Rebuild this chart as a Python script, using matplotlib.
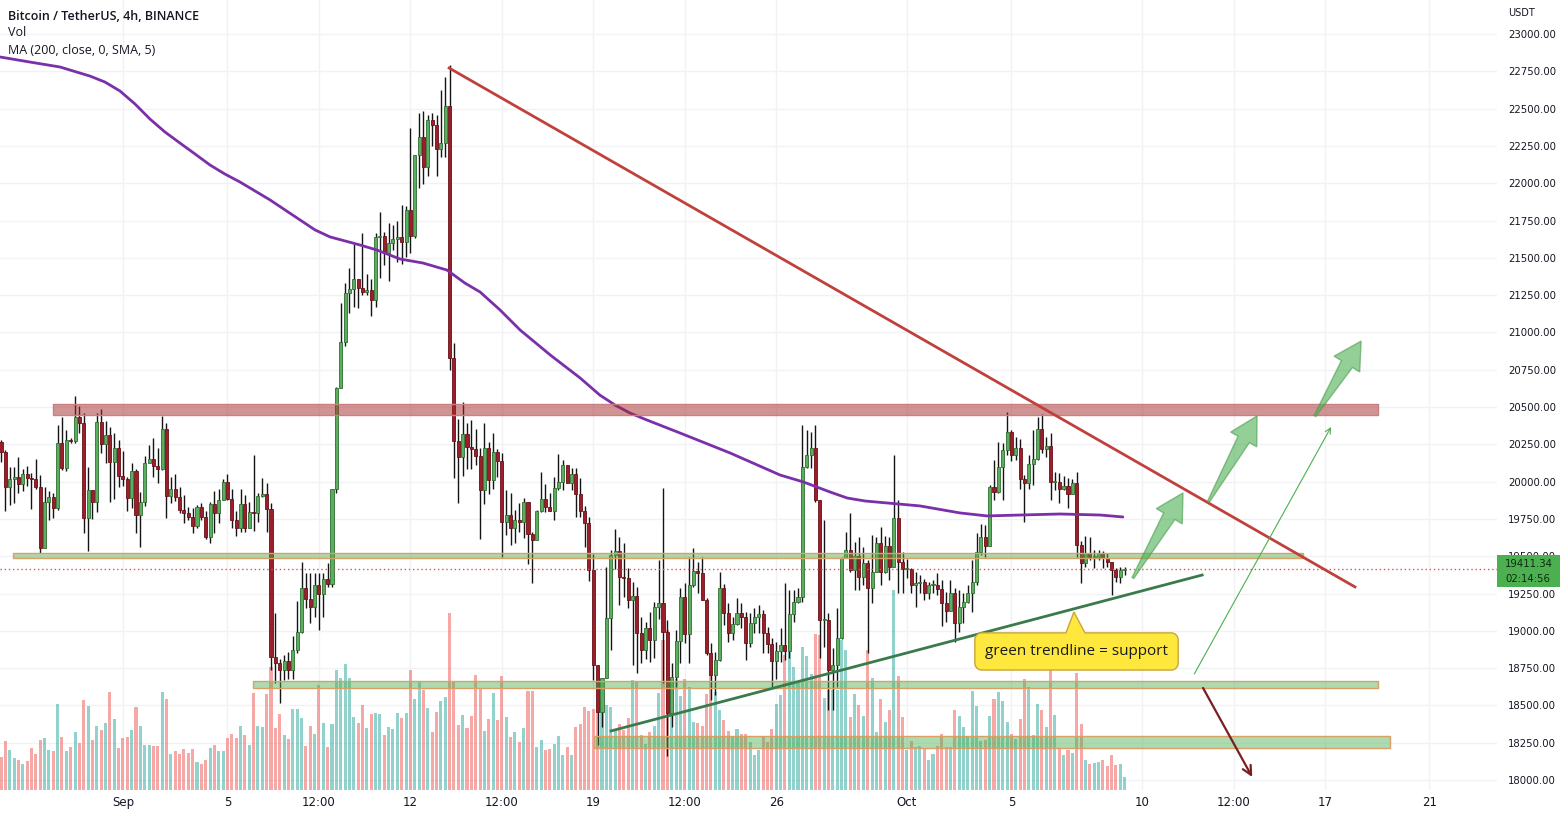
import numpy as np
import pandas as pd
import matplotlib
matplotlib.use("Agg")
import matplotlib.pyplot as plt
import matplotlib.dates as mdates
import matplotlib.transforms as mtransforms
from matplotlib.patches import Polygon, Rectangle

#------------------------------------------#
# Donnees (BTC/USDT 4h)
#------------------------------------------#
start = "2022-08-27 08:00"
first_open = 20268

close = [20201, 19966, 20018, 20033, 19984, 20049, 20026, 20015, 19966, 19553,
         19861, 19895, 19821, 20257, 20093, 20279, 20272, 20435, 20395, 19754,
         19944, 19866, 20397, 20250, 20312, 20134, 20223, 20040, 20015, 19888,
         20073, 19776, 19866, 20123, 20152, 20105, 20082, 20350, 19906, 19951,
         19895, 19810, 19792, 19765, 19705, 19832, 19765, 19627, 19848, 19788,
         19877, 19997, 19883, 19743, 19691, 19850, 19691, 19794, 19792, 19904,
         19917, 19814, 18827, 18782, 18737, 18798, 18737, 18872, 18990, 19285,
         19213, 19162, 19307, 19247, 19345, 19314, 19948, 20625, 20934, 21262,
         21289, 21356, 21296, 21273, 21285, 21218, 21642, 21646, 21535, 21602,
         21624, 21637, 21609, 21821, 21646, 22189, 22308, 22107, 22424, 22388,
         22227, 22268, 22518, 20827, 20272, 20167, 20319, 20234, 20216, 20172,
         19944, 20223, 20011, 20201, 20140, 19732, 19776, 19687, 19743, 19730,
         19861, 19649, 19609, 19805, 19883, 19832, 19805, 19955, 19999, 20111,
         19993, 20049, 19915, 19805, 19720, 19408, 18771, 18458, 18682, 19084,
         19508, 19535, 19363, 19352, 19207, 19233, 18983, 18872, 19017, 18939,
         19157, 19184, 18994, 18447, 18688, 18934, 19229, 18979, 19307, 19401,
         19390, 19207, 18854, 18704, 18805, 19285, 19117, 18988, 19046, 19117,
         19095, 18916, 19055, 19095, 19113, 18983, 18909, 18800, 18865, 18905,
         18867, 19113, 19195, 19229, 20096, 20178, 20223, 19877, 19072, 19072,
         18737, 18771, 18950, 19486, 19542, 19408, 19502, 19363, 19457, 19285,
         19397, 19587, 19397, 19569, 19430, 19754, 19464, 19412, 19412, 19307,
         19318, 19329, 19256, 19307, 19307, 19278, 19184, 19135, 19256, 19050,
         19162, 19195, 19256, 19329, 19531, 19631, 19569, 19962, 19932, 20100,
         20212, 20335, 20178, 20228, 20015, 19993, 20118, 20150, 20350, 20216,
         20239, 20000, 20000, 19948, 19973, 19917, 19989, 19575, 19452, 19524,
         19497, 19497, 19524, 19486, 19464, 19408, 19359, 19408, 19411.34]

high = [20279, 20212, 20096, 20096, 20163, 20082, 20107, 20055, 20152, 20044,
        19966, 19937, 19921, 20379, 20435, 20346, 20290, 20574, 20507, 20458,
        20096, 19944, 20458, 20484, 20408, 20368, 20328, 20279, 20207, 20033,
        20123, 20082, 19933, 20172, 20245, 20290, 20223, 20440, 20391, 20033,
        20049, 19966, 19910, 19832, 19821, 19843, 19855, 19805, 19866, 19937,
        19948, 20020, 20049, 19948, 19805, 19948, 19910, 19866, 20178, 19921,
        20022, 19988, 19854, 19117, 18809, 18838, 18860, 18965, 19202, 19463,
        19385, 19385, 19390, 19390, 19385, 19457, 19948, 20636, 21200, 21334,
        21430, 21593, 21356, 21664, 21392, 21356, 21664, 21810, 21676, 21731,
        21720, 21747, 21854, 21848, 22368, 22189, 22473, 22486, 22457, 22473,
        22457, 22625, 22714, 22792, 20927, 20417, 20536, 20395, 20413, 20350,
        20223, 20395, 20268, 20328, 20216, 20194, 19944, 19922, 19810, 19859,
        19888, 19866, 19665, 19810, 20067, 19984, 19921, 20033, 20185, 20145,
        20096, 20089, 20089, 20022, 19837, 19765, 19515, 18771, 18682, 19430,
        19541, 19680, 19631, 19591, 19419, 19329, 19296, 19095, 19062, 19128,
        19195, 19475, 19955, 19073, 18782, 19006, 19285, 19318, 19497, 19553,
        19464, 19497, 19218, 18916, 18860, 19397, 19312, 19189, 19095, 19218,
        19189, 19128, 19122, 19151, 19173, 19140, 19028, 18950, 18927, 19017,
        19318, 19274, 19274, 19285, 20380, 20346, 20335, 20380, 19877, 19743,
        19117, 18883, 19151, 19497, 19665, 19787, 19598, 19631, 19564, 19475,
        19642, 19631, 19698, 19636, 19631, 20178, 19877, 19531, 19479, 19419,
        19397, 19374, 19345, 19329, 19341, 19390, 19341, 19262, 19341, 19285,
        19274, 19256, 19307, 19475, 19653, 19716, 19709, 19977, 20145, 20268,
        20257, 20469, 20346, 20301, 20283, 20044, 20178, 20346, 20435, 20453,
        20301, 20324, 20067, 20060, 20038, 20022, 20015, 20067, 19604, 19636,
        19631, 19542, 19542, 19537, 19519, 19464, 19419, 19430, 19430]

low = [20134, 19803, 19843, 19859, 19922, 19937, 19971, 19814, 19948, 19519,
       19553, 19743, 19758, 19810, 20078, 20073, 20260, 20257, 20328, 19653,
       19537, 19747, 19799, 20190, 20123, 19861, 19881, 19966, 19971, 19803,
       19821, 19653, 19564, 19837, 20123, 20033, 19993, 20078, 19754, 19859,
       19872, 19792, 19725, 19743, 19653, 19687, 19743, 19613, 19587, 19653,
       19720, 19877, 19877, 19687, 19636, 19665, 19665, 19698, 19671, 19732,
       19899, 19665, 18737, 18648, 18514, 18670, 18675, 18675, 18849, 18983,
       19151, 19055, 19095, 19006, 19095, 19296, 19292, 19926, 20625, 20909,
       21128, 21173, 21162, 21251, 21251, 21110, 21173, 21363, 21452, 21347,
       21553, 21475, 21459, 21508, 21530, 21631, 21966, 21995, 22049, 22250,
       22049, 22178, 22178, 20748, 20022, 19859, 20038, 20082, 20082, 20111,
       19613, 19850, 19917, 19948, 20033, 19497, 19642, 19575, 19586, 19665,
       19620, 19448, 19318, 19609, 19799, 19799, 19805, 19743, 19944, 19944,
       19989, 19944, 19765, 19765, 19564, 19336, 18670, 18235, 18358, 19070,
       18871, 19412, 19173, 19229, 19151, 18771, 18715, 18787, 18809, 18793,
       18816, 19077, 18648, 18160, 18358, 18626, 18782, 18916, 18782, 19296,
       19251, 19207, 18838, 18537, 18570, 18800, 19039, 18927, 18939, 19039,
       19017, 18805, 18894, 18983, 18983, 18849, 18849, 18626, 18675, 18793,
       18805, 18816, 19062, 19184, 19195, 20089, 20089, 19866, 18816, 18894,
       18470, 18469, 18626, 18943, 19515, 19397, 19274, 19274, 19307, 18849,
       19184, 19397, 19307, 19390, 19341, 19430, 19251, 19251, 19352, 19251,
       19162, 19251, 19207, 19211, 19251, 19240, 19032, 19061, 19135, 18927,
       18994, 19055, 19184, 19128, 19307, 19508, 19497, 19569, 19877, 19926,
       19877, 20178, 20140, 20145, 19948, 19732, 19948, 19977, 20145, 20190,
       20167, 19877, 19944, 19859, 19944, 19821, 19921, 19497, 19318, 19430,
       19475, 19419, 19475, 19419, 19430, 19240, 19330, 19318, 19374]

volume = [33, 49, 40, 32, 30, 26, 29, 42, 36, 50, 52, 40, 39, 86, 53, 39, 43, 58, 47, 90,
          84, 50, 64, 60, 67, 98, 71, 42, 52, 53, 60, 83, 64, 45, 45, 44, 44, 98, 91, 36,
          39, 36, 41, 37, 41, 28, 26, 30, 42, 45, 39, 39, 52, 56, 52, 64, 55, 45, 97, 64,
          63, 96, 123, 62, 76, 55, 51, 81, 81, 72, 44, 64, 56, 105, 67, 43, 66, 120, 112, 126,
          112, 73, 67, 85, 62, 76, 77, 76, 55, 63, 61, 77, 72, 77, 120, 91, 108, 100, 82, 58,
          78, 89, 93, 177, 108, 65, 75, 62, 74, 115, 101, 59, 71, 97, 70, 114, 73, 53, 58, 48,
          62, 99, 99, 43, 50, 40, 41, 46, 54, 35, 43, 35, 63, 66, 83, 79, 81, 80, 90, 85,
          83, 60, 66, 60, 72, 110, 108, 55, 46, 58, 64, 97, 150, 160, 111, 111, 94, 111, 103, 68,
          67, 64, 96, 118, 98, 80, 70, 59, 54, 61, 56, 56, 48, 35, 40, 53, 48, 61, 86, 95,
          135, 143, 123, 108, 143, 134, 116, 156, 155, 92, 100, 100, 100, 150, 140, 73, 96, 85, 74, 140,
          112, 58, 91, 68, 80, 200, 114, 73, 40, 49, 43, 44, 42, 30, 36, 44, 56, 43, 43, 80,
          74, 63, 54, 99, 84, 49, 50, 74, 91, 98, 89, 68, 56, 51, 71, 111, 103, 55, 86, 80,
          63, 120, 75, 41, 35, 40, 37, 117, 66, 30, 26, 27, 28, 30, 24, 35, 25, 26, 13]

ma_idx = [-0.2, 6.66, 13.55, 20.44, 23.88, 27.32, 30.77, 34.21, 37.66, 41.1,
          44.55, 47.99, 51.44, 54.88, 58.32, 61.77, 65.21, 68.66, 72.1, 75.55,
          78.99, 82.43, 86.34, 91.62, 96.9, 102.4, 106.5, 110, 114.6, 119.2,
          126.1, 133, 137.5, 141, 144.4, 148.3, 155.9, 167.4, 178.9, 184.2,
          190.4, 194.3, 198.4, 203.4, 211, 220.2, 226.4, 234, 243.2, 252.4, 257.6]
ma_val = [22846, 22812, 22779, 22718, 22678, 22618, 22531, 22430, 22343, 22269,
          22196, 22122, 22061, 22008, 21948, 21888, 21821, 21754, 21687, 21640,
          21613, 21586, 21552, 21492, 21465, 21418, 21331, 21271, 21150, 21016,
          20849, 20694, 20580, 20513, 20460, 20413, 20326, 20192, 20044, 19998,
          19930, 19890, 19870, 19857, 19837, 19790, 19770, 19776, 19783, 19776, 19763]

last_price = 19411.34
countdown = "02:14:56"

# Dessins (index de bougie, prix)
red_trend = [(102.9, 22772), (310.9, 19294)]
green_trend = [(140.1, 18329), (275.8, 19374)]
red_zone = (11.9, 316.2, 20446, 20520)
green_zones = [(2.8, 299.0, 19488, 19521),
               (57.9, 316.2, 18617, 18664),
               (136.2, 318.9, 18215, 18295)]
fat_arrows = [((259.9, 19354), (271.4, 19924)),
              ((277.2, 19863), (288.4, 20440)),
              ((301.7, 20440), (312.3, 20942))]
thin_arrow = ((274.0, 18711), (305.4, 20366))
down_arrow = ((276.0, 18617), (287.3, 18020))
note_text = "green trendline = support"
note_box = (223.6, 270.3, 18737, 18986)
note_tip = (245.9, 19126)

tick_dates = ["2022-09-01 00:00", "2022-09-05 00:00", "2022-09-08 12:00",
              "2022-09-12 00:00", "2022-09-15 12:00", "2022-09-19 00:00",
              "2022-09-22 12:00", "2022-09-26 00:00", "2022-10-01 00:00",
              "2022-10-05 00:00", "2022-10-10 00:00", "2022-10-13 12:00",
              "2022-10-17 00:00", "2022-10-21 00:00"]
tick_labels = ["Sep", "5", "12:00", "12", "12:00", "19", "12:00", "26",
               "Oct", "5", "10", "12:00", "17", "21"]

#------------------------------------------#

t0 = mdates.date2num(pd.Timestamp(start))
step = 4 / 24


def bx(i):
    return t0 + np.asarray(i, dtype=float) * step


n = len(close)
xs = bx(np.arange(n))
c = np.array(close, dtype=float)
o = np.concatenate([[first_open], c[:-1]])
h = np.maximum(np.array(high, dtype=float), np.maximum(o, c))
l = np.minimum(np.array(low, dtype=float), np.minimum(o, c))
up = c >= o

W, H = 1567, 818
fig = plt.figure(figsize=(W / 100, H / 100), dpi=100)
fig.patch.set_facecolor("white")
rect = [0, 28 / H, 1497 / W, 790 / H]
ax_v = fig.add_axes(rect)
ax = fig.add_axes(rect, sharex=ax_v)
ax.patch.set_alpha(0)

xmin, xmax = bx(-0.23), bx(343.5)
ymin, ymax = 17933, 23228
ax.set_xlim(xmin, xmax)
ax.set_ylim(ymin, ymax)

# grille
grid_c = "#f0f2f5"
yt = np.arange(18000, 23001, 250)
btr = mtransforms.blended_transform_factory(ax_v.transAxes, ax.transData)
for p in yt:
    ax_v.plot([0, 1], [p, p], color=grid_c, lw=1, transform=btr, zorder=0)
tick_x = mdates.date2num(pd.to_datetime(tick_dates))
for tx in tick_x:
    ax_v.axvline(tx, color=grid_c, lw=1, zorder=0)

# volume
ax_v.bar(xs, volume, width=step * 0.7,
         color=np.where(up, "#26a69a", "#ef5350"), alpha=0.5, linewidth=0, zorder=1)
ax_v.set_ylim(0, max(volume) * 790 / 200)
ax_v.axis("off")

# bougies
ax.vlines(xs, l, h, color="#141414", lw=1, zorder=2)
body_bot = np.minimum(o, c)
body_h = np.maximum(np.abs(c - o), 7)
ax.bar(xs[up], body_h[up], bottom=body_bot[up], width=step * 0.7,
       color="#5cae5f", edgecolor="#2f6e33", linewidth=0.6, zorder=3)
ax.bar(xs[~up], body_h[~up], bottom=body_bot[~up], width=step * 0.7,
       color="#9b1f2a", edgecolor="#6b1018", linewidth=0.6, zorder=3)

# moyenne mobile
ax.plot(bx(ma_idx), ma_val, color="#7b2fa8", lw=2, zorder=4,
        solid_joinstyle="round", solid_capstyle="round")

# zones horizontales
x0, x1, y0, y1 = red_zone
ax.add_patch(Rectangle((bx(x0), y0), bx(x1) - bx(x0), y1 - y0,
                       facecolor="#a52a2a", alpha=0.5, edgecolor="none", zorder=4))
ax.add_patch(Rectangle((bx(x0), y0), bx(x1) - bx(x0), y1 - y0,
                       facecolor="none", edgecolor="#c98080", lw=1, zorder=4))
for x0, x1, y0, y1 in green_zones:
    ax.add_patch(Rectangle((bx(x0), y0), bx(x1) - bx(x0), y1 - y0,
                           facecolor="#4caf50", alpha=0.45, edgecolor="none", zorder=4))
    ax.add_patch(Rectangle((bx(x0), y0), bx(x1) - bx(x0), y1 - y0,
                           facecolor="none", edgecolor="#d9a066", lw=1, zorder=4))

# prix courant
ax.axhline(last_price, color="#d9534f", lw=1, ls=(0, (1, 2)), zorder=4)

# lignes de tendance
(a, pa), (b, pb) = red_trend
ax.plot(bx([a, b]), [pa, pb], color="#c0403c", lw=2, zorder=5)
(a, pa), (b, pb) = green_trend
ax.plot(bx([a, b]), [pa, pb], color="#3b7a4b", lw=2, zorder=5)

inv = ax.transData.inverted()


def fat_arrow(tail, tip):
    p0 = ax.transData.transform((bx(tail[0]), tail[1]))
    p1 = ax.transData.transform((bx(tip[0]), tip[1]))
    d = p1 - p0
    L = np.hypot(*d)
    u = d / L
    v = np.array([-u[1], u[0]])
    hl, sw, hw = 27, 13, 30
    base = p1 - u * hl
    pts = [p0 + v * 1, base + v * sw / 2, base + v * hw / 2, p1,
           base - v * hw / 2, base - v * sw / 2, p0 - v * 1]
    ax.add_patch(Polygon(inv.transform(np.array(pts)), closed=True,
                         facecolor="#4caf50", alpha=0.6, edgecolor="#4a9e4e",
                         lw=1, zorder=6))


for tail, tip in fat_arrows:
    fat_arrow(tail, tip)

(a, pa), (b, pb) = thin_arrow
ax.annotate("", xy=(bx(b), pb), xytext=(bx(a), pa),
            arrowprops=dict(arrowstyle="->", color="#4caf50", lw=0.8,
                            shrinkA=0, shrinkB=0, mutation_scale=10), zorder=6)
(a, pa), (b, pb) = down_arrow
ax.annotate("", xy=(bx(b), pb), xytext=(bx(a), pa),
            arrowprops=dict(arrowstyle="->", color="#7a1e22", lw=1.6,
                            shrinkA=0, shrinkB=0, mutation_scale=16), zorder=6)

# bulle jaune
bx0, bx1, by0, by1 = note_box
q0 = ax.transData.transform((bx(bx0), by0))
q1 = ax.transData.transform((bx(bx1), by1))
tp = ax.transData.transform((bx(note_tip[0]), note_tip[1]))
left, right = q0[0], q1[0]
bottom, top = q0[1], q1[1]
r = 7
outline = []


def arc(cx, cy, a0, a1):
    for ang in np.linspace(np.radians(a0), np.radians(a1), 8):
        outline.append((cx + r * np.cos(ang), cy + r * np.sin(ang)))


arc(left + r, bottom + r, 180, 270)
arc(right - r, bottom + r, 270, 360)
arc(right - r, top - r, 0, 90)
outline.append((tp[0] + 13, top))
outline.append((tp[0] + 2, tp[1]))
outline.append((tp[0] - 6, top))
arc(left + r, top - r, 90, 180)
ax.add_patch(Polygon(inv.transform(np.array(outline)), closed=True,
                     facecolor="#ffe83e", edgecolor="#c9a43a", lw=1, zorder=7))
ax.text(bx((bx0 + bx1) / 2), (by0 + by1) / 2, note_text, ha="center", va="center",
        fontsize=11, family="Open Sans", color="#1a1a1a", zorder=8)

# axes et etiquettes
for s in ax.spines.values():
    s.set_visible(False)
ax.yaxis.tick_right()
ax.set_yticks(yt)
ax.set_yticklabels(["{:.2f}".format(p) for p in yt])
ax.set_xticks(tick_x)
ax.set_xticklabels(tick_labels)
ax.tick_params(axis="y", length=0, pad=8, labelsize=7.3, labelcolor="#131722")
ax.tick_params(axis="x", length=0, pad=4, labelsize=8.5, labelcolor="#131722")

# etiquette du dernier prix
ltr = mtransforms.blended_transform_factory(ax.transAxes, ax.transData)
ax.add_patch(Rectangle((1.0, last_price - 115), 63 / 1497, 210,
                       transform=ltr, facecolor="#4caf50", edgecolor="none",
                       clip_on=False, zorder=9))
ax.text(1.0 + 8 / 1497, last_price + 35, "{:.2f}".format(last_price), transform=ltr,
        fontsize=7.3, color="#0f2a12", va="center", clip_on=False, zorder=10)
ax.text(1.0 + 8 / 1497, last_price - 62, countdown, transform=ltr,
        fontsize=7.3, color="#0f2a12", va="center", clip_on=False, zorder=10)

fig.text(1508 / W, 1 - 13 / H, "USDT", fontsize=7, color="#131722", va="center")
fig.text(8 / W, 1 - 16 / H, "Bitcoin / TetherUS, 4h, BINANCE", fontsize=9,
         family="Open Sans", weight="semibold", color="#131722", va="center")
fig.text(8 / W, 1 - 33 / H, "Vol", fontsize=9, family="Open Sans",
         color="#131722", va="center")
fig.text(8 / W, 1 - 50 / H, "MA (200, close, 0, SMA, 5)", fontsize=9,
         family="Open Sans", color="#131722", va="center")

fig.savefig("out.png", dpi=100)
